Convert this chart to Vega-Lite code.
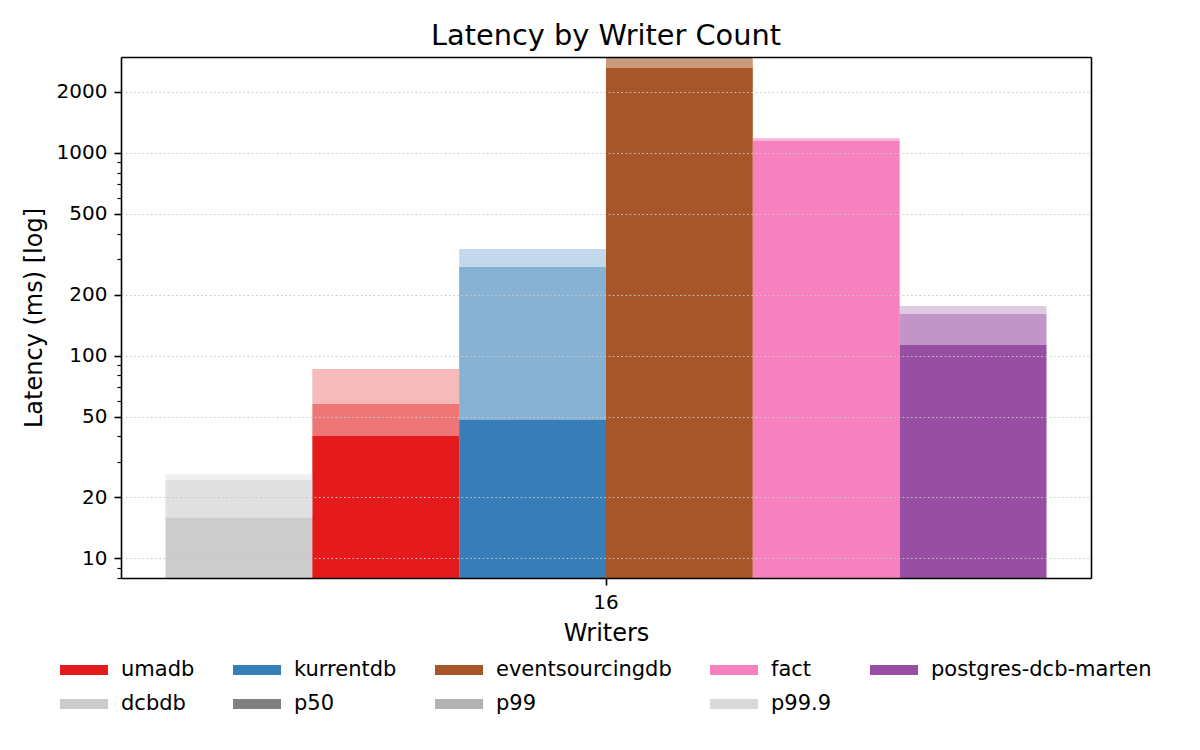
{
  "$schema": "https://vega.github.io/schema/vega-lite/v6.json",
  "description": "Latency by writer count, p50/p99/p99.9 stacked as shaded bars on a log axis",
  "autosize": "none",
  "width": 970,
  "height": 521,
  "padding": {"left": 121, "top": 57, "right": 109, "bottom": 172},
  "title": {"text": "Latency by Writer Count", "fontSize": 28.8, "fontWeight": "normal", "color": "black", "offset": 6},
  "data": {
    "values": [
      {"writers": "16", "system": "dcbdb", "p50": 15.9, "p99": 24.4, "p999": 26.1},
      {"writers": "16", "system": "umadb", "p50": 40.2, "p99": 57.8, "p999": 86.0},
      {"writers": "16", "system": "kurrentdb", "p50": 48.2, "p99": 273.5, "p999": 335.5},
      {"writers": "16", "system": "eventsourcingdb", "p50": 2626, "p99": 3400, "p999": 3700},
      {"writers": "16", "system": "fact", "p50": 1146, "p99": 1181, "p999": 1186},
      {"writers": "16", "system": "postgres-dcb-marten", "p50": 112.9, "p99": 160.5, "p999": 175.7}
    ]
  },
  "encoding": {
    "x": {"field": "writers", "type": "nominal",
      "scale": {"paddingInner": 0, "paddingOuter": 0.0505}},
    "xOffset": {"field": "system", "type": "nominal",
      "scale": {"domain": ["dcbdb", "umadb", "kurrentdb", "eventsourcingdb", "fact", "postgres-dcb-marten"], "paddingInner": 0, "paddingOuter": 0}},
    "color": {"field": "system", "type": "nominal",
      "scale": {
        "domain": ["umadb", "dcbdb", "kurrentdb", "p50", "eventsourcingdb", "p99", "fact", "p99.9", "postgres-dcb-marten"],
        "range": ["#e41a1c", "#cccccc", "#377eb8", "#808080", "#a65628", "#b3b3b3", "#f781bf", "#d9d9d9", "#984ea3"]
      },
      "legend": {
        "title": null, "orient": "none", "legendX": -61, "legendY": 589,
        "columns": 5, "symbolType": "M-1,-0.21H1V0.21H-1Z", "symbolSize": 2304,
        "symbolOpacity": 1, "symbolStrokeWidth": 0,
        "labelFontSize": 21, "labelColor": "black", "labelOffset": 13,
        "columnPadding": 38, "rowPadding": -20, "labelLimit": 400
      }
    }
  },
  "layer": [
    {
      "mark": {"type": "bar", "clip": true},
      "encoding": {
        "x": {"field": "writers", "type": "nominal", "scale": {"paddingInner": 0, "paddingOuter": 0.0505},
          "axis": {"title": "Writers", "titleFontSize": 24, "titleFontWeight": "normal", "titleColor": "black", "titlePadding": 9,
            "labelFontSize": 20, "labelColor": "black", "labelAngle": 0, "labelPadding": 7,
            "tickSize": 7, "tickWidth": 1.6, "tickColor": "black",
            "domainColor": "black", "domainWidth": 1.6, "grid": false, "zindex": 1}},
        "y": {"field": "p50", "type": "quantitative",
          "scale": {"type": "log", "domain": [8, 2974], "nice": false},
          "axis": {"title": "Latency (ms) [log]", "titleFontSize": 24, "titleFontWeight": "normal", "titleColor": "black", "titlePadding": 10,
            "values": [8, 9, 10, 20, 30, 40, 50, 60, 70, 80, 90, 100, 200, 300, 400, 500, 600, 700, 800, 900, 1000, 2000],
            "labelExpr": "indexof([10, 20, 50, 100, 200, 500, 1000, 2000], datum.value) >= 0 ? '' + datum.value : ''",
            "labelFontSize": 20, "labelColor": "black", "labelPadding": 7, "labelOverlap": false, "labelFlush": false,
            "tickColor": "black",
            "tickSize": {"condition": {"test": "indexof([10, 20, 50, 100, 200, 500, 1000, 2000], datum.value) >= 0", "value": 7}, "value": 4},
            "tickWidth": {"condition": {"test": "indexof([10, 20, 50, 100, 200, 500, 1000, 2000], datum.value) >= 0", "value": 1.6}, "value": 1.2},
            "domainColor": "black", "domainWidth": 1.6,
            "grid": true, "gridColor": "#c8c8c8", "gridWidth": 1.2, "gridDash": [1.6, 2.6],
            "gridOpacity": {"condition": {"test": "indexof([10, 20, 50, 100, 200, 500, 1000, 2000], datum.value) >= 0", "value": 1}, "value": 0},
            "zindex": 1}},
        "y2": {"datum": 8}
      }
    },
    {
      "mark": {"type": "bar", "clip": true, "opacity": 0.6},
      "encoding": {
        "x": {"field": "writers", "type": "nominal", "scale": {"paddingInner": 0, "paddingOuter": 0.0505},
          "axis": {"orient": "top", "title": null, "labels": false, "ticks": false, "grid": false,
            "domainColor": "black", "domainWidth": 1.6, "zindex": 1}},
        "y": {"field": "p99", "type": "quantitative",
          "axis": {"orient": "right", "title": null, "labels": false, "ticks": false, "grid": false,
            "domainColor": "black", "domainWidth": 1.6, "zindex": 1}},
        "y2": {"field": "p50"}
      }
    },
    {
      "mark": {"type": "bar", "clip": true, "opacity": 0.3},
      "encoding": {
        "x": {"field": "writers", "type": "nominal", "axis": null},
        "y": {"field": "p999", "type": "quantitative", "axis": null},
        "y2": {"field": "p99"}
      }
    }
  ],
  "resolve": {"axis": {"x": "independent", "y": "independent"}},
  "config": {
    "font": "DejaVu Sans",
    "view": {"stroke": null}
  }
}
